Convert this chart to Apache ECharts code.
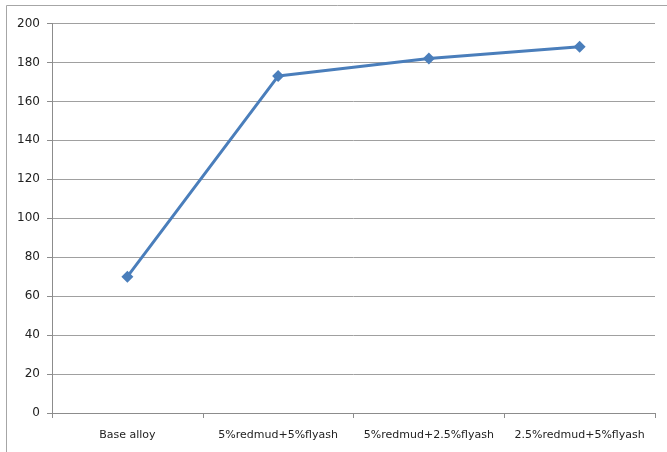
<!DOCTYPE html>
<html>
<head>
<meta charset="utf-8">
<script src="https://cdn.jsdelivr.net/npm/echarts@6/dist/echarts.min.js"></script>
<style>
  html, body { margin: 0; padding: 0; background: #fff; }
  #chart { width: 667px; height: 452px; }
</style>
</head>
<body>
<div id="chart"></div>
<script>
// Samples along the x axis
const categories = ['Base alloy', '5%redmud+5%flyash', '5%redmud+2.5%flyash', '2.5%redmud+5%flyash'];
// Measured values for each sample
const values = [70, 173, 182, 188];
// Value axis range
const yMin = 0, yMax = 200, yStep = 20;

const chart = echarts.init(document.getElementById('chart'), null, { renderer: 'canvas' });
const font = 'DejaVu Sans';

chart.setOption({
  animation: false,
  backgroundColor: '#ffffff',
  grid: { left: 52, right: 12, top: 23.5, bottom: 39 },
  graphic: [{
    type: 'rect',
    shape: { x: 6.5, y: 5.5, width: 720, height: 500 },
    style: { fill: 'none', stroke: '#a6a6a6', lineWidth: 1 },
    silent: true
  }],
  xAxis: {
    type: 'category',
    data: categories,
    boundaryGap: true,
    axisLine: { lineStyle: { color: '#8c8c8c', width: 1 } },
    axisTick: { show: true, interval: 0, length: 5, lineStyle: { color: '#8c8c8c' } },
    axisLabel: { interval: 0, hideOverlap: false, color: '#222', fontFamily: font, fontSize: 11, margin: 17 },
    splitLine: { show: false }
  },
  yAxis: {
    type: 'value',
    min: yMin, max: yMax, interval: yStep,
    axisLine: { show: true, lineStyle: { color: '#8c8c8c', width: 1 } },
    axisTick: { show: true, length: 5, lineStyle: { color: '#8c8c8c' } },
    axisLabel: { color: '#222', fontFamily: font, fontSize: 12, margin: 12 },
    splitLine: { show: true, lineStyle: { color: '#a0a0a0', width: 1 } }
  },
  series: [{
    type: 'line',
    data: values,
    symbol: 'diamond',
    symbolSize: 12,
    lineStyle: { color: '#4a7ebb', width: 3 },
    itemStyle: { color: '#4a7ebb' },
    z: 5
  }]
});
</script>
</body>
</html>
